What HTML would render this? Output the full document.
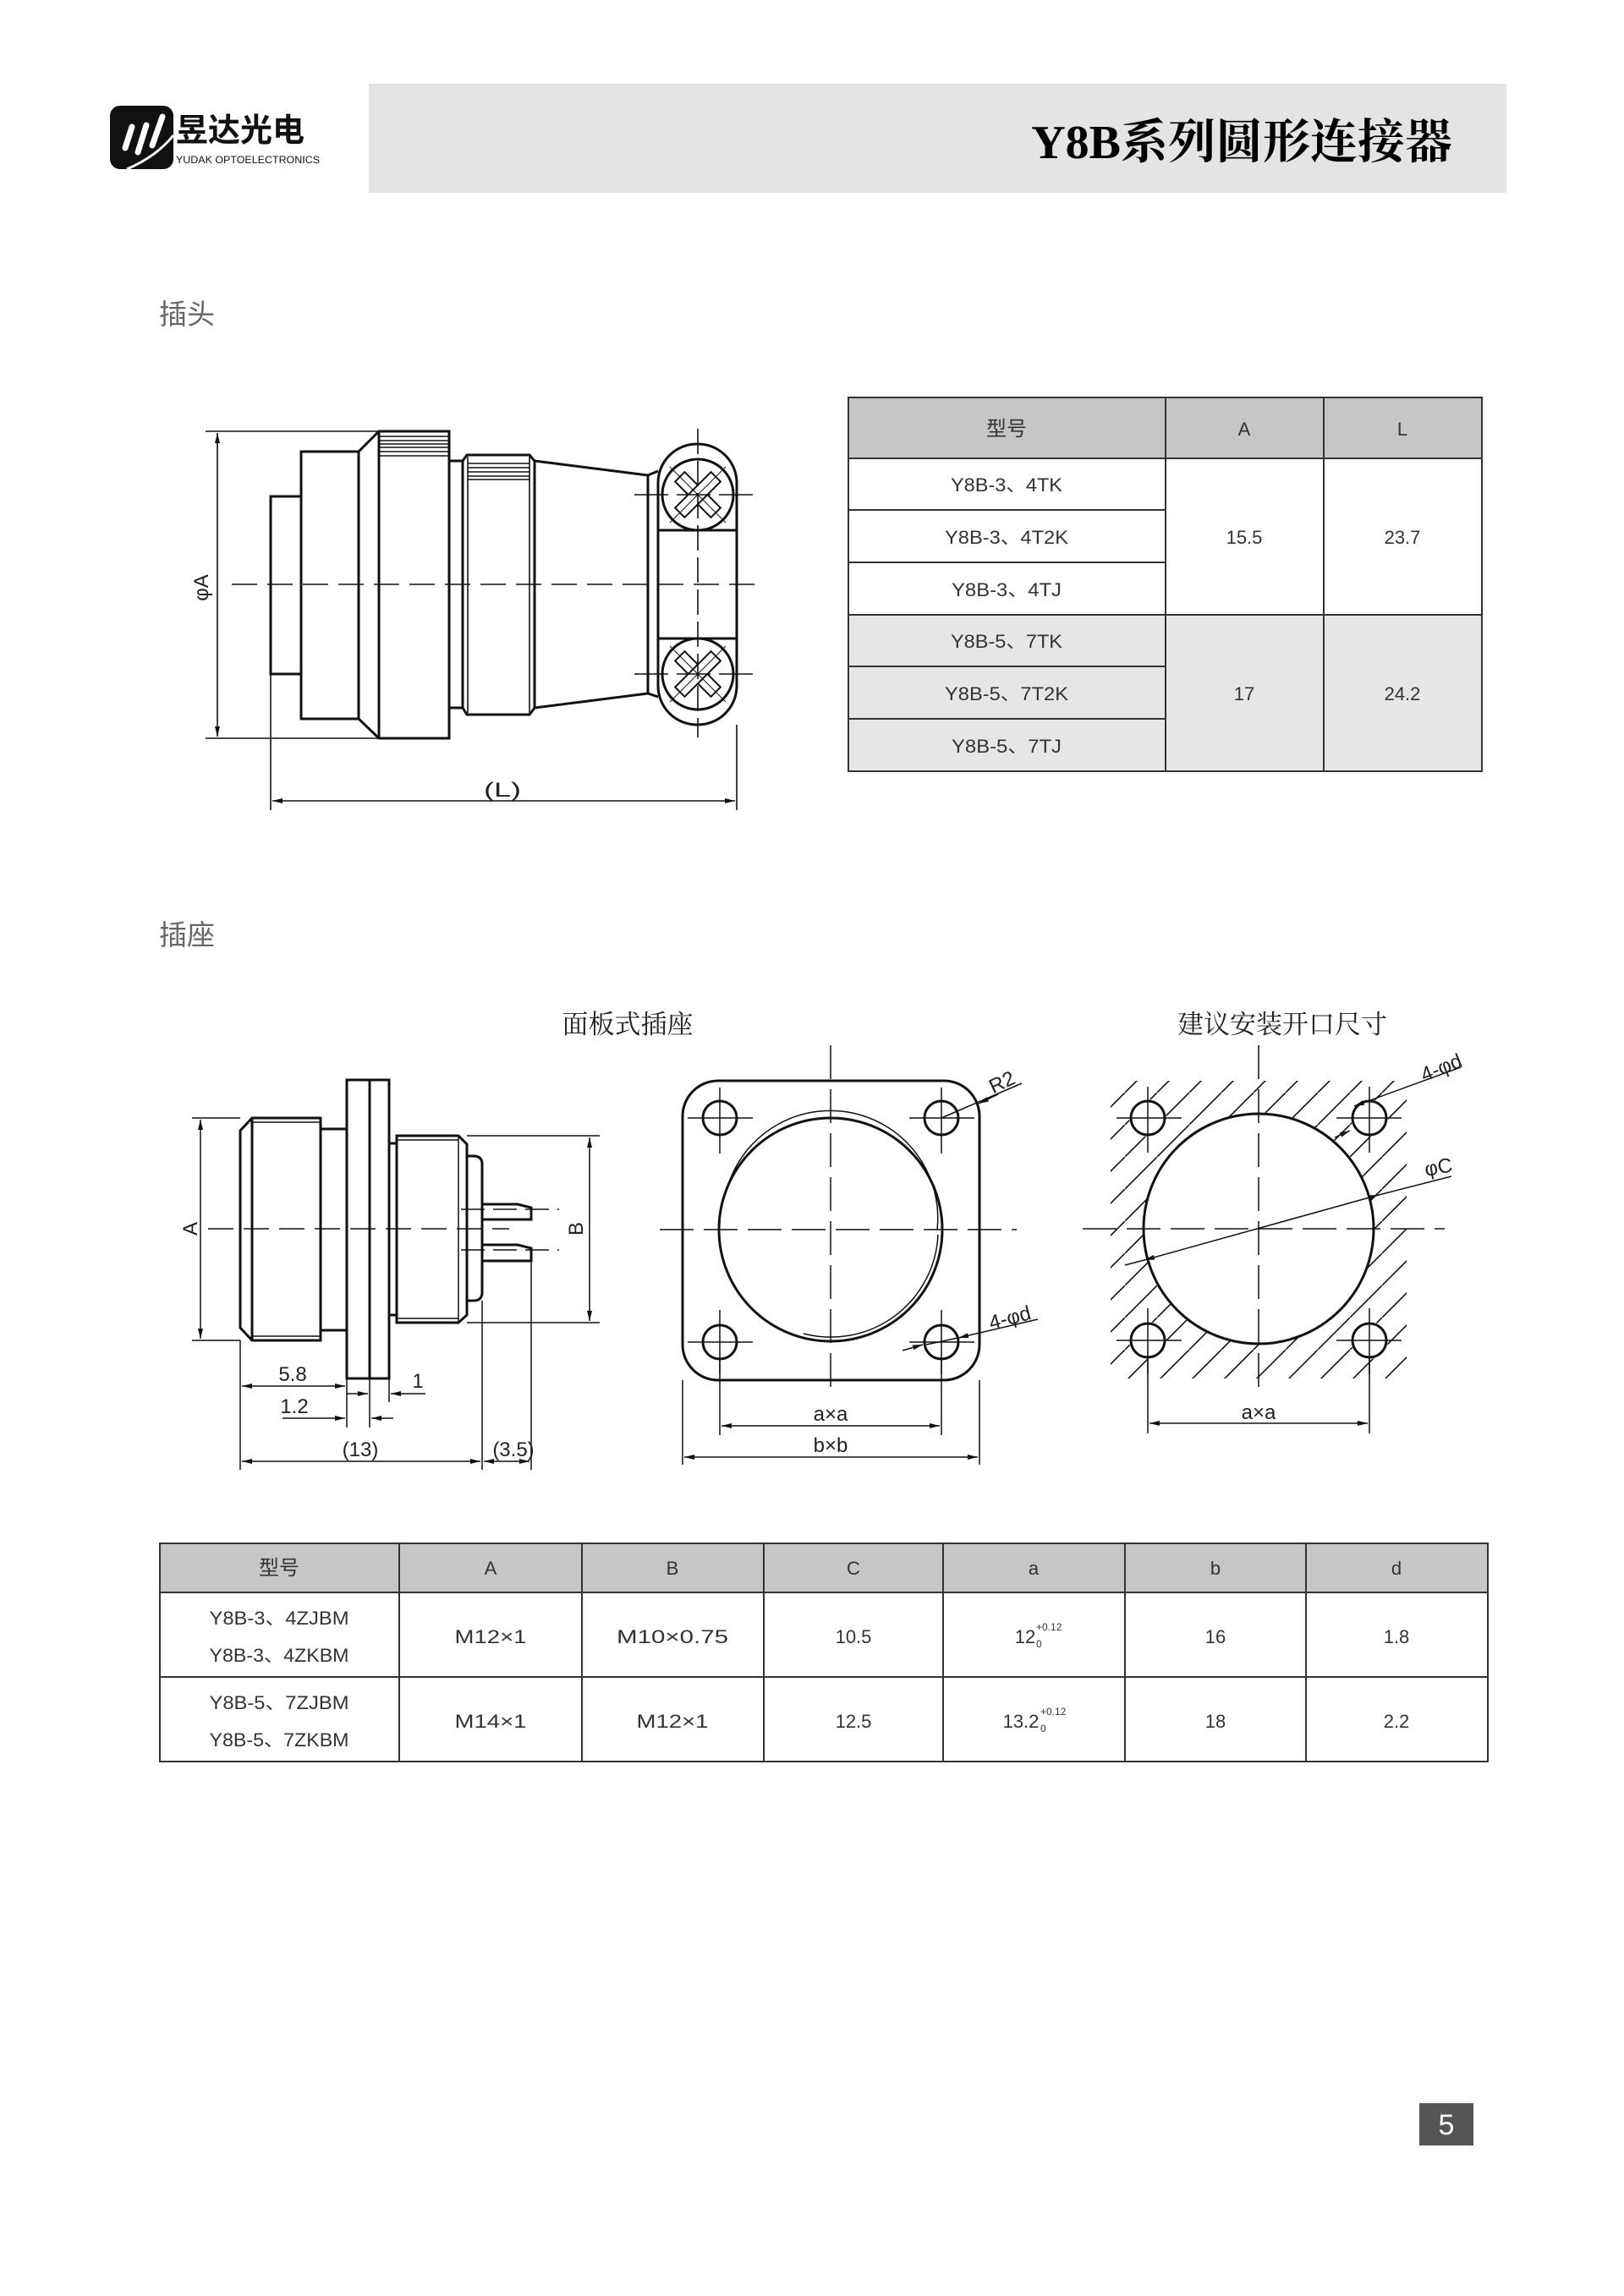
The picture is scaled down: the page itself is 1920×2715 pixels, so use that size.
<!DOCTYPE html>
<html><head><meta charset="utf-8">
<style>
html,body{margin:0;padding:0;background:#fff;}
svg{display:block;}
text{font-family:"Liberation Sans","Noto Sans CJK SC",sans-serif;}
.t{font-size:22px;fill:#333;}
.d{font-size:24px;fill:#222;}
</style></head>
<body>
<svg width="1920" height="2715" viewBox="0 0 1920 2715" xmlns="http://www.w3.org/2000/svg">
<defs>
<marker id="ar" viewBox="0 0 12 6" refX="12" refY="3" markerWidth="12" markerHeight="6" markerUnits="userSpaceOnUse" orient="auto-start-reverse">
<path d="M0,0 L12,3 L0,6 z" fill="#111"/></marker>
<pattern id="hat" patternUnits="userSpaceOnUse" width="38" height="38">
<line x1="-2" y1="40" x2="40" y2="-2" stroke="#111" stroke-width="1.6"/></pattern>
<mask id="hm"><rect x="1313" y="1278" width="350" height="352" fill="#fff"/><circle cx="1488" cy="1453" r="136" fill="#000"/>
<circle cx="1357" cy="1322" r="22" fill="#000"/><circle cx="1619" cy="1322" r="22" fill="#000"/><circle cx="1357" cy="1585" r="22" fill="#000"/><circle cx="1619" cy="1585" r="22" fill="#000"/></mask>
</defs>

<!-- header -->
<rect x="436" y="99" width="1345" height="129" fill="#e4e4e4"/>
<text x="1717" y="187" text-anchor="end" font-size="56" font-weight="bold" style="font-family:'Liberation Serif','Noto Serif CJK SC',serif" fill="#000">Y8B系列圆形连接器</text>
<rect x="130" y="125" width="75" height="75" rx="12" fill="#111"/>
<g stroke="#fff" stroke-width="7" stroke-linecap="round"><line x1="148" y1="175" x2="156" y2="150"/><line x1="163" y1="180" x2="173" y2="148"/><line x1="180" y1="172" x2="192" y2="138"/></g>
<path d="M150,200 Q185,185 205,160" stroke="#fff" stroke-width="3" fill="none"/>
<text x="208" y="167" font-size="38" font-weight="bold" fill="#111">昱达光电</text>
<text x="208" y="193" font-size="12" fill="#111" textLength="170" lengthAdjust="spacingAndGlyphs">YUDAK OPTOELECTRONICS</text>

<text x="188" y="383" font-size="33" fill="#666">插头</text>
<text x="188" y="1117" font-size="33" fill="#666">插座</text>

<!-- plug drawing -->
<g stroke="#111" fill="none">
<line x1="243" y1="510" x2="448" y2="510" stroke-width="1.6"/>
<line x1="243" y1="873" x2="448" y2="873" stroke-width="1.6"/>
<line x1="257" y1="512" x2="257" y2="871" stroke-width="1.6" marker-start="url(#ar)" marker-end="url(#ar)"/>
<g stroke-width="3">
<rect x="320" y="587" width="36" height="210"/>
<rect x="356" y="534" width="68" height="316"/>
<path d="M424,534 L448,510 L531,510 L531,873 L448,873 L424,850"/>
<line x1="448" y1="510" x2="448" y2="873"/>
<rect x="531" y="545" width="16" height="292"/>
<path d="M552,538 L626,538 L632,545 L632,837 L626,845 L552,845 L547,837 L547,545 z"/>
<line x1="553" y1="540" x2="553" y2="843" stroke-width="1.6"/>
<line x1="626" y1="540" x2="626" y2="843" stroke-width="1.6"/>
<path d="M632,545 L766,562 L778,557"/>
<path d="M632,837 L766,820 L778,824"/>
<line x1="766" y1="562" x2="766" y2="820"/>
<rect x="778" y="525" width="93" height="332" rx="46"/>
<line x1="778" y1="627" x2="871" y2="627"/>
<line x1="778" y1="755" x2="871" y2="755"/>
<circle cx="825" cy="585" r="42" fill="#fff"/>
<circle cx="825" cy="797" r="42" fill="#fff"/>
</g>
<g stroke-width="1.4">
<line x1="449" y1="516" x2="530" y2="516"/><line x1="449" y1="521" x2="530" y2="521"/><line x1="449" y1="525" x2="530" y2="525"/><line x1="449" y1="529" x2="530" y2="529"/><line x1="449" y1="534" x2="530" y2="534"/><line x1="449" y1="539" x2="530" y2="539"/>
<line x1="553" y1="548" x2="626" y2="548"/><line x1="553" y1="553" x2="626" y2="553"/><line x1="553" y1="558" x2="626" y2="558"/><line x1="553" y1="563" x2="626" y2="563"/><line x1="553" y1="567" x2="626" y2="567"/>
</g>
<g transform="translate(825,585)" stroke-width="2"><rect x="-30" y="-8" width="60" height="16" transform="rotate(45)" fill="#fff"/><rect x="-30" y="-8" width="60" height="16" transform="rotate(-45)" fill="#fff"/><line x1="-33" y1="-33" x2="33" y2="33" stroke-width="1"/><line x1="-33" y1="33" x2="33" y2="-33" stroke-width="1"/></g>
<g transform="translate(825,797)" stroke-width="2"><rect x="-30" y="-8" width="60" height="16" transform="rotate(45)" fill="#fff"/><rect x="-30" y="-8" width="60" height="16" transform="rotate(-45)" fill="#fff"/><line x1="-33" y1="-33" x2="33" y2="33" stroke-width="1"/><line x1="-33" y1="33" x2="33" y2="-33" stroke-width="1"/></g>
<g stroke-width="1.6">
<line x1="274" y1="691" x2="895" y2="691" stroke-dasharray="30 12"/>
<line x1="750" y1="585" x2="895" y2="585" stroke-dasharray="40 10"/>
<line x1="750" y1="797" x2="895" y2="797" stroke-dasharray="40 10"/>
<line x1="825" y1="507" x2="825" y2="872" stroke-dasharray="30 8"/>
<line x1="320" y1="797" x2="320" y2="958"/>
<line x1="871" y1="857" x2="871" y2="958"/>
<line x1="322" y1="947" x2="869" y2="947" marker-start="url(#ar)" marker-end="url(#ar)"/>
</g>
</g>
<text x="572" y="942" class="d" textLength="44" lengthAdjust="spacingAndGlyphs">(L)</text>
<text transform="translate(246,695) rotate(-90)" text-anchor="middle" class="d">φA</text>

<!-- table 1 -->
<g>
<rect x="1003" y="470" width="749" height="72" fill="#c6c6c6"/>
<rect x="1003" y="727" width="749" height="185" fill="#e6e6e6"/>
<g stroke="#333" stroke-width="2" fill="none">
<rect x="1003" y="470" width="749" height="442"/>
<line x1="1003" y1="542" x2="1752" y2="542"/>
<line x1="1003" y1="603" x2="1378" y2="603"/>
<line x1="1003" y1="665" x2="1378" y2="665"/>
<line x1="1003" y1="727" x2="1752" y2="727"/>
<line x1="1003" y1="788" x2="1378" y2="788"/>
<line x1="1003" y1="850" x2="1378" y2="850"/>
<line x1="1378" y1="470" x2="1378" y2="912"/>
<line x1="1565" y1="470" x2="1565" y2="912"/>
</g>
<g class="t" text-anchor="middle">
<text x="1190" y="515" font-size="24">型号</text>
<text x="1471" y="515">A</text><text x="1658" y="515">L</text>
<text x="1190" y="581" textLength="132" lengthAdjust="spacingAndGlyphs">Y8B-3、4TK</text>
<text x="1190" y="643" textLength="146" lengthAdjust="spacingAndGlyphs">Y8B-3、4T2K</text>
<text x="1190" y="705" textLength="130" lengthAdjust="spacingAndGlyphs">Y8B-3、4TJ</text>
<text x="1190" y="766" textLength="132" lengthAdjust="spacingAndGlyphs">Y8B-5、7TK</text>
<text x="1190" y="828" textLength="146" lengthAdjust="spacingAndGlyphs">Y8B-5、7T2K</text>
<text x="1190" y="890" textLength="130" lengthAdjust="spacingAndGlyphs">Y8B-5、7TJ</text>
<text x="1471" y="643">15.5</text><text x="1658" y="643">23.7</text>
<text x="1471" y="828">17</text><text x="1658" y="828">24.2</text>
</g>
</g>

<!-- socket titles -->
<text x="742" y="1222" text-anchor="middle" font-size="31" fill="#222" style="font-family:'Liberation Serif','Noto Serif CJK SC',serif">面板式插座</text>
<text x="1516" y="1222" text-anchor="middle" font-size="31" fill="#222" style="font-family:'Liberation Serif','Noto Serif CJK SC',serif">建议安装开口尺寸</text>

<!-- socket side view -->
<g stroke="#111" fill="none">
<g stroke-width="3">
<path d="M298,1322 L379,1322 L379,1585 L298,1585 L284,1570 L284,1337 z"/>
<line x1="298" y1="1322" x2="298" y2="1585"/>
<path d="M379,1335 L410,1335 M379,1573 L410,1573"/>
<rect x="410" y="1277" width="50" height="353"/>
<line x1="437" y1="1277" x2="437" y2="1630"/>
<path d="M460,1352 L469,1352 M460,1555 L469,1555"/>
<path d="M469,1343 L542,1343 L552,1353 L552,1555 L542,1564 L469,1564 z"/>
<line x1="542" y1="1343" x2="542" y2="1564" stroke-width="1.5"/>
<path d="M552,1367 L560,1367 Q570,1367 570,1377 L570,1528 Q570,1538 560,1538 L552,1538"/>
<path d="M570,1424 L612,1424 L628,1428 L628,1442 L570,1442"/>
<path d="M570,1472 L612,1472 L628,1476 L628,1491 L570,1491"/>
</g>
<g stroke-width="1.5">
<line x1="298" y1="1327" x2="379" y2="1327"/><line x1="298" y1="1580" x2="379" y2="1580"/>
<line x1="469" y1="1348" x2="542" y2="1348"/><line x1="469" y1="1559" x2="542" y2="1559"/>
<line x1="246" y1="1453" x2="602" y2="1453" stroke-dasharray="30 12"/>
<line x1="545" y1="1430" x2="661" y2="1430" stroke-dasharray="28 10"/>
<line x1="545" y1="1478" x2="661" y2="1478" stroke-dasharray="28 10"/>
<line x1="227" y1="1322" x2="284" y2="1322"/><line x1="227" y1="1585" x2="284" y2="1585"/>
<line x1="237" y1="1324" x2="237" y2="1583" marker-start="url(#ar)" marker-end="url(#ar)"/>
<line x1="552" y1="1343" x2="709" y2="1343"/><line x1="552" y1="1564" x2="709" y2="1564"/>
<line x1="697" y1="1345" x2="697" y2="1562" marker-start="url(#ar)" marker-end="url(#ar)"/>
<line x1="284" y1="1585" x2="284" y2="1738"/>
<line x1="410" y1="1630" x2="410" y2="1688"/><line x1="437" y1="1630" x2="437" y2="1688"/><line x1="460" y1="1630" x2="460" y2="1658"/>
<line x1="570" y1="1538" x2="570" y2="1738"/><line x1="628" y1="1491" x2="628" y2="1738"/>
<line x1="286" y1="1639" x2="408" y2="1639" marker-start="url(#ar)" marker-end="url(#ar)"/>
<line x1="410" y1="1648" x2="435" y2="1648" marker-end="url(#ar)"/>
<line x1="503" y1="1648" x2="462" y2="1648" marker-end="url(#ar)"/>
<line x1="334" y1="1677" x2="408" y2="1677" marker-end="url(#ar)"/>
<line x1="465" y1="1677" x2="439" y2="1677" marker-end="url(#ar)"/>
<line x1="286" y1="1728" x2="568" y2="1728" marker-start="url(#ar)" marker-end="url(#ar)"/>
<line x1="572" y1="1728" x2="626" y2="1728" marker-start="url(#ar)" marker-end="url(#ar)"/>
</g>
</g>
<g class="d">
<text x="346" y="1633" text-anchor="middle">5.8</text>
<text x="494" y="1641" text-anchor="middle">1</text>
<text x="348" y="1671" text-anchor="middle">1.2</text>
<text x="426" y="1722" text-anchor="middle">(13)</text>
<text x="607" y="1722" text-anchor="middle">(3.5)</text>
<text transform="translate(233,1453) rotate(-90)" text-anchor="middle">A</text>
<text transform="translate(689,1453) rotate(-90)" text-anchor="middle">B</text>
</g>

<!-- front view -->
<g stroke="#111" fill="none">
<rect x="807" y="1278" width="351" height="354" rx="42" stroke-width="3"/>
<circle cx="982" cy="1454" r="132" stroke-width="3"/>
<path d="M862,1398 A127,127 0 0 1 1108,1454" stroke-width="1.5"/>
<path d="M950,1577 A127,127 0 0 0 1109,1460" stroke-width="1.5"/>
<g stroke-width="3"><circle cx="851" cy="1322" r="20"/><circle cx="1113" cy="1322" r="20"/><circle cx="851" cy="1587" r="20"/><circle cx="1113" cy="1587" r="20"/></g>
<g stroke-width="1.5">
<line x1="780" y1="1454" x2="1202" y2="1454" stroke-dasharray="40 12"/>
<line x1="982" y1="1236" x2="982" y2="1648" stroke-dasharray="40 12"/>
<path d="M813,1322 H890 M851,1286 V1364 M1075,1322 H1152 M1113,1286 V1364 M813,1587 H890 M851,1549 V1625 M1075,1587 H1152 M1113,1549 V1625"/>
<line x1="851" y1="1607" x2="851" y2="1697"/><line x1="1113" y1="1607" x2="1113" y2="1697"/>
<line x1="853" y1="1686" x2="1111" y2="1686" marker-start="url(#ar)" marker-end="url(#ar)"/>
<line x1="807" y1="1632" x2="807" y2="1732"/><line x1="1158" y1="1632" x2="1158" y2="1732"/>
<line x1="809" y1="1723" x2="1156" y2="1723" marker-start="url(#ar)" marker-end="url(#ar)"/>
<line x1="1208" y1="1281" x2="1113" y2="1322"/>
<line x1="1180" y1="1294" x2="1157" y2="1305" marker-end="url(#ar)"/>
<line x1="1067" y1="1597" x2="1091" y2="1590" marker-end="url(#ar)"/>
<line x1="1227" y1="1560" x2="1133" y2="1582" marker-end="url(#ar)"/>
<line x1="1095" y1="1590" x2="1133" y2="1582"/>
</g>
</g>
<g class="d">
<text x="982" y="1680" text-anchor="middle">a×a</text>
<text x="982" y="1717" text-anchor="middle">b×b</text>
<text transform="translate(1188,1287) rotate(-25)" text-anchor="middle">R2</text>
<text transform="translate(1196,1566) rotate(-15)" text-anchor="middle">4-φd</text>
</g>

<!-- cutout -->
<rect x="1313" y="1278" width="350" height="352" fill="url(#hat)" mask="url(#hm)"/>
<g stroke="#111" fill="none">
<circle cx="1488" cy="1453" r="136" stroke-width="3"/>
<g stroke-width="3"><circle cx="1357" cy="1322" r="20"/><circle cx="1619" cy="1322" r="20"/><circle cx="1357" cy="1585" r="20"/><circle cx="1619" cy="1585" r="20"/></g>
<g stroke-width="1.5">
<line x1="1280" y1="1453" x2="1708" y2="1453" stroke-dasharray="40 12"/>
<line x1="1488" y1="1236" x2="1488" y2="1650" stroke-dasharray="40 12"/>
<path d="M1320,1322 H1397 M1357,1285 V1363 M1580,1322 H1657 M1619,1285 V1363 M1320,1585 H1397 M1357,1547 V1625 M1580,1585 H1657 M1619,1547 V1625"/>
<line x1="1357" y1="1605" x2="1357" y2="1695"/><line x1="1619" y1="1605" x2="1619" y2="1695"/>
<line x1="1359" y1="1683" x2="1617" y2="1683" marker-start="url(#ar)" marker-end="url(#ar)"/>
<line x1="1716" y1="1391" x2="1630" y2="1413"/>
<line x1="1630" y1="1413" x2="1353" y2="1490" marker-start="url(#ar)" marker-end="url(#ar)"/>
<line x1="1330" y1="1496" x2="1353" y2="1490"/>
<line x1="1727" y1="1262" x2="1601" y2="1308" marker-end="url(#ar)"/>
<line x1="1578" y1="1345" x2="1596" y2="1337" marker-end="url(#ar)"/>
</g>
</g>
<g class="d">
<text x="1488" y="1678" text-anchor="middle">a×a</text>
<text transform="translate(1702,1388) rotate(-10)" text-anchor="middle">φC</text>
<text transform="translate(1707,1270) rotate(-22)" text-anchor="middle">4-φd</text>
</g>

<!-- table 2 -->
<g>
<rect x="189" y="1825" width="1570" height="58" fill="#c6c6c6"/>
<g stroke="#333" stroke-width="2" fill="none">
<rect x="189" y="1825" width="1570" height="258"/>
<line x1="189" y1="1883" x2="1759" y2="1883"/>
<line x1="189" y1="1983" x2="1759" y2="1983"/>
<line x1="472" y1="1825" x2="472" y2="2083"/><line x1="688" y1="1825" x2="688" y2="2083"/><line x1="903" y1="1825" x2="903" y2="2083"/><line x1="1115" y1="1825" x2="1115" y2="2083"/><line x1="1330" y1="1825" x2="1330" y2="2083"/><line x1="1544" y1="1825" x2="1544" y2="2083"/>
</g>
<g class="t" text-anchor="middle">
<text x="330" y="1862" font-size="24">型号</text>
<text x="580" y="1862">A</text><text x="795" y="1862">B</text><text x="1009" y="1862">C</text><text x="1222" y="1862">a</text><text x="1437" y="1862">b</text><text x="1651" y="1862">d</text>
<text x="330" y="1921" textLength="165" lengthAdjust="spacingAndGlyphs">Y8B-3、4ZJBM</text>
<text x="330" y="1965" textLength="165" lengthAdjust="spacingAndGlyphs">Y8B-3、4ZKBM</text>
<text x="580" y="1943" textLength="85" lengthAdjust="spacingAndGlyphs">M12×1</text>
<text x="795" y="1943" textLength="132" lengthAdjust="spacingAndGlyphs">M10×0.75</text>
<text x="1009" y="1943">10.5</text>
<text x="1212" y="1943">12</text>
<text x="1437" y="1943">16</text><text x="1651" y="1943">1.8</text>
<text x="330" y="2021" textLength="165" lengthAdjust="spacingAndGlyphs">Y8B-5、7ZJBM</text>
<text x="330" y="2065" textLength="165" lengthAdjust="spacingAndGlyphs">Y8B-5、7ZKBM</text>
<text x="580" y="2043" textLength="85" lengthAdjust="spacingAndGlyphs">M14×1</text>
<text x="795" y="2043" textLength="85" lengthAdjust="spacingAndGlyphs">M12×1</text>
<text x="1009" y="2043">12.5</text>
<text x="1207" y="2043">13.2</text>
<text x="1437" y="2043">18</text><text x="1651" y="2043">2.2</text>
</g>
<g font-size="12" fill="#333">
<text x="1225" y="1928">+0.12</text><text x="1225" y="1948">0</text>
<text x="1230" y="2028">+0.12</text><text x="1230" y="2048">0</text>
</g>
</g>

<!-- page number -->
<rect x="1678" y="2487" width="64" height="50" fill="#555"/>
<text x="1710" y="2524" text-anchor="middle" font-size="34" fill="#fff">5</text>
</svg>
</body></html>
